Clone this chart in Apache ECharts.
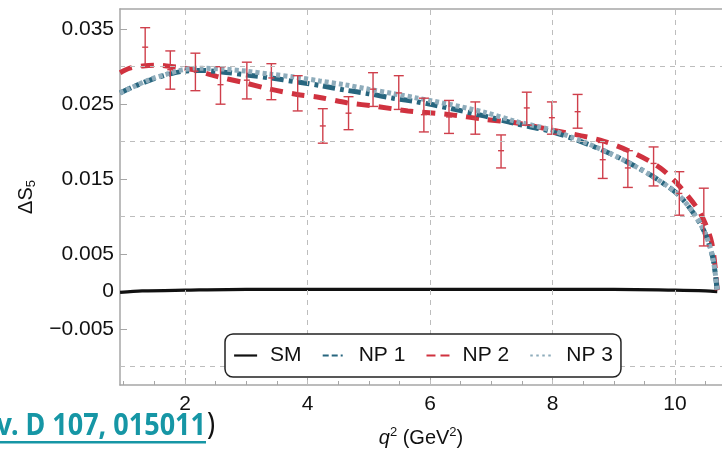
<!DOCTYPE html>
<html><head><meta charset="utf-8">
<script src="https://cdn.jsdelivr.net/npm/echarts@6/dist/echarts.min.js"></script>
<style>html,body{margin:0;padding:0;background:#fff}#c{width:722px;height:455px}</style>
</head><body><div id="c"></div>
<script>
// ---- data ----
const smQ = [0.94, 1.3, 2.0, 3.0, 5.0, 7.0, 9.0, 10.0, 10.5, 10.69];
const smV = [-0.0001, 0.0001, 0.0002, 0.0003, 0.0003, 0.0003, 0.0003, 0.0002, 0.0001, 0.0];

const np1Q = [0.94, 1.15, 1.43, 1.7, 1.97, 2.25, 2.6, 3.0, 3.4, 3.8, 4.2, 4.6, 5.0, 5.4, 5.8, 6.3, 6.9, 7.4, 7.96, 8.5, 9.05, 9.59, 10.03, 10.3, 10.49, 10.62, 10.69];
const np1V = [0.0265, 0.0273, 0.0282, 0.0289, 0.0294, 0.0295, 0.0293, 0.0289, 0.0285, 0.0280, 0.0275, 0.0269, 0.0264, 0.0258, 0.0253, 0.0245, 0.0234, 0.0224, 0.0214, 0.0199, 0.0180, 0.0156, 0.0131, 0.0105, 0.0078, 0.0044, 0.0];

const np3Q = [0.94, 1.15, 1.43, 1.7, 1.97, 2.25, 2.6, 3.0, 3.4, 3.8, 4.2, 4.6, 5.0, 5.4, 5.8, 6.3, 6.9, 7.4, 7.96, 8.5, 9.05, 9.59, 10.03, 10.3, 10.49, 10.62, 10.69];
const np3V = [0.0265, 0.0273, 0.0283, 0.0290, 0.0296, 0.0298, 0.0297, 0.0294, 0.0290, 0.0286, 0.0281, 0.0276, 0.0270, 0.0264, 0.0258, 0.0250, 0.0239, 0.0227, 0.0216, 0.0200, 0.0180, 0.0156, 0.0131, 0.0105, 0.0078, 0.0044, 0.0];

const np2Q = [0.94, 1.1, 1.31, 1.5, 1.7, 2.0, 2.13, 2.52, 2.95, 3.39, 3.83, 4.2, 4.64, 5.13, 5.64, 6.33, 6.87, 7.42, 7.96, 8.78, 9.32, 9.76, 10.08, 10.41, 10.6, 10.69];
const np2V = [0.0292, 0.0298, 0.0301, 0.0302, 0.0301, 0.0298, 0.0296, 0.0287, 0.0279, 0.0270, 0.0263, 0.0259, 0.0252, 0.0247, 0.0241, 0.0236, 0.0230, 0.0225, 0.0216, 0.0202, 0.0185, 0.0165, 0.0140, 0.0105, 0.0065, 0.0];

const ebQ    = [1.35, 1.76, 2.17, 2.58, 3.01, 3.41, 3.84, 4.25, 4.67, 5.07, 5.49, 5.90, 6.31, 6.74, 7.16, 7.58, 7.99, 8.41, 8.82, 9.23, 9.65, 10.07, 10.47];
const ebVal  = [0.0326, 0.0296, 0.0294, 0.0276, 0.0282, 0.0285, 0.0263, 0.0221, 0.0238, 0.0270, 0.0265, 0.0236, 0.0233, 0.0231, 0.0188, 0.0245, 0.0232, 0.0240, 0.0176, 0.0165, 0.0171, 0.0131, 0.0091];
const ebLow  = [0.0300, 0.0270, 0.0268, 0.0250, 0.0257, 0.0256, 0.0241, 0.0198, 0.0216, 0.0247, 0.0243, 0.0213, 0.0211, 0.0210, 0.0165, 0.0222, 0.0210, 0.0218, 0.0151, 0.0139, 0.0141, 0.0102, 0.0061];
const ebHigh = [0.0352, 0.0321, 0.0318, 0.0300, 0.0306, 0.0304, 0.0288, 0.0244, 0.0260, 0.0292, 0.0288, 0.0258, 0.0255, 0.0253, 0.0209, 0.0266, 0.0253, 0.0263, 0.0199, 0.0188, 0.0193, 0.0160, 0.0138];

const xMajorTicks = [2, 4, 6, 8, 10];
const xMinorTicks = [1, 1.5, 2.5, 3, 3.5, 4.5, 5, 5.5, 6.5, 7, 7.5, 8.5, 9, 9.5, 10.5];
const yTickLabels = [-0.005, 0, 0.005, 0.015, 0.025, 0.035];
const xGridLines = [2, 4, 6, 8, 10];
const yGridLines = [-0.01, 0.01, 0.02, 0.03];
const seriesNames = ['SM', 'NP 1', 'NP 2', 'NP 3'];

// ---- chart ----
const X_MIN = 0.939, X_MAX = 10.767, Y_MIN = -0.01244, Y_MAX = 0.03769;
const FONT = '"Liberation Sans", Arial, sans-serif';
const AX = '#a6a6a6';
const pairs = (q, v) => q.map((x, i) => [x, v[i]]);
const ebData = ebQ.map((x, i) => [x, ebVal[i], ebLow[i], ebHigh[i]]);

const chart = echarts.init(document.getElementById('c'), null, {renderer: 'canvas'});
const RED = '#d0323f', DARK = '#27667f', LIGHT = '#8eacbb', EB = '#cf3f4b';
const legendDash = {'SM': 'solid', 'NP 1': [6, 3, 6, 3, 2, 3], 'NP 2': [9, 5], 'NP 3': [2.5, 3.5]};

const option = {
  animation: false,
  backgroundColor: '#fff',
  grid: {left: 120, top: 9, right: 0, bottom: 70, containLabel: false},
  legend: {
    data: seriesNames.map(n => ({name: n, lineStyle: {type: legendDash[n], width: 2.2}})),
    left: 225, top: 334,
    orient: 'horizontal',
    itemWidth: 23, itemHeight: 14, itemGap: 20,
    padding: [11, 8, 11, 8],
    borderColor: '#222', borderWidth: 1.5, borderRadius: 8,
    backgroundColor: '#fff',
    itemStyle: {opacity: 0},
    lineStyle: {width: 2.2},
    textStyle: {fontSize: 21, color: '#111', fontFamily: FONT, padding: [0, 0, 0, 8]},
    z: 10
  },
  xAxis: [
    {
      type: 'value', position: 'bottom', min: X_MIN, max: X_MAX,
      axisLine: {show: true, onZero: false, lineStyle: {color: AX, width: 1.5}},
      axisTick: {show: true, inside: true, length: 7, customValues: xMajorTicks, lineStyle: {color: AX, width: 1}},
      axisLabel: {customValues: xMajorTicks, fontSize: 21, color: '#111', margin: 9, fontFamily: FONT},
      splitLine: {show: false},
      name: '{i|q}{s|2}{n| (GeV}{s|2}{n|)}',
      nameLocation: 'middle', nameGap: 41,
      nameTextStyle: {
        rich: {
          i: {fontSize: 20, fontStyle: 'italic', fontFamily: FONT, color: '#111', lineHeight: 24},
          n: {fontSize: 20, fontFamily: FONT, color: '#111', lineHeight: 24},
          s: {fontSize: 13, fontFamily: FONT, color: '#111', verticalAlign: 'top', lineHeight: 14}
        }
      }
    },
    {
      type: 'value', position: 'bottom', min: X_MIN, max: X_MAX,
      axisLine: {show: false, onZero: false},
      axisTick: {show: true, inside: true, length: 4, customValues: xMinorTicks, lineStyle: {color: AX, width: 1}},
      axisLabel: {show: false},
      splitLine: {show: false}
    },
    {
      type: 'value', position: 'top', min: X_MIN, max: X_MAX,
      axisLine: {show: true, onZero: false, lineStyle: {color: AX, width: 1.5}},
      axisTick: {show: false}, axisLabel: {show: false}, splitLine: {show: false}
    }
  ],
  yAxis: [
    {
      type: 'value', position: 'left', min: Y_MIN, max: Y_MAX,
      axisLine: {show: true, onZero: false, lineStyle: {color: AX, width: 1.5}},
      axisTick: {show: true, inside: true, length: 7, customValues: yTickLabels, lineStyle: {color: AX, width: 1}},
      axisLabel: {
        customValues: yTickLabels, fontSize: 21, color: '#111', margin: 6, fontFamily: FONT,
        formatter: v => (Math.abs(v) < 1e-12 ? '0' : (v < 0 ? '\u2212' : '') + Math.abs(v).toFixed(3))
      },
      splitLine: {show: false},
      name: '{a|\u0394S}{b|5}',
      nameLocation: 'middle', nameGap: 82, nameRotate: 90,
      nameTextStyle: {
        rich: {
          a: {fontSize: 20, fontFamily: FONT, color: '#111', lineHeight: 24},
          b: {fontSize: 13, fontFamily: FONT, color: '#111', verticalAlign: 'bottom', lineHeight: 12}
        }
      }
    }
  ],
  series: [
    {
      name: '_grid', type: 'line', data: [[X_MIN, Y_MIN]], symbol: 'none', silent: true,
      lineStyle: {opacity: 0}, z: 1,
      markLine: {
        silent: true, symbol: ['none', 'none'], animation: false,
        label: {show: false},
        lineStyle: {type: [5, 5], color: '#bdbdbd', width: 1},
        data: xGridLines.map(v => ({xAxis: v})).concat(yGridLines.map(v => ({yAxis: v})))
      }
    },
    {
      name: 'SM', type: 'line', data: pairs(smQ, smV), symbol: 'none', smooth: 0.3, z: 3,
      lineStyle: {color: '#111', width: 3.2}, itemStyle: {color: '#111'}
    },
    {
      name: 'NP 2', type: 'line', data: pairs(np2Q, np2V), symbol: 'none', smooth: 0.3, z: 3,
      lineStyle: {color: RED, width: 5, type: [13, 9]}, itemStyle: {color: RED}
    },
    {
      name: 'NP 1', type: 'line', data: pairs(np1Q, np1V), symbol: 'none', smooth: 0.3, z: 3,
      lineStyle: {color: DARK, width: 5, type: [12, 5, 4, 5]}, itemStyle: {color: DARK}
    },
    {
      name: 'NP 3', type: 'line', data: pairs(np3Q, np3V), symbol: 'none', smooth: 0.3, z: 3,
      lineStyle: {color: LIGHT, width: 5, type: [4, 3]}, itemStyle: {color: LIGHT}
    },
    {
      name: '_err', type: 'custom', data: ebData, z: 4, silent: true,
      encode: {x: 0, y: [1, 2, 3]},
      renderItem: (params, api) => {
        const x = api.value(0);
        const pc = api.coord([x, api.value(1)]);
        const pl = api.coord([x, api.value(2)]);
        const ph = api.coord([x, api.value(3)]);
        const st = {stroke: EB, lineWidth: 1.4};
        const cw = 5, mw = 3;
        return {type: 'group', children: [
          {type: 'line', shape: {x1: pl[0], y1: pl[1], x2: ph[0], y2: ph[1]}, style: st},
          {type: 'line', shape: {x1: ph[0] - cw, y1: ph[1], x2: ph[0] + cw, y2: ph[1]}, style: st},
          {type: 'line', shape: {x1: pl[0] - cw, y1: pl[1], x2: pl[0] + cw, y2: pl[1]}, style: st},
          {type: 'line', shape: {x1: pc[0] - mw, y1: pc[1], x2: pc[0] + mw, y2: pc[1]}, style: st}
        ]};
      }
    }
  ],
  graphic: [
    {type: 'text', x: 206, y: 411, scaleY: 1.15,
     style: {text: 'Phys. Rev. D 107, 015011', fill: '#1696a5', font: 'bold 27px "Noto Sans"', align: 'right', verticalAlign: 'top'}},
    {type: 'rect', shape: {x: 0, y: 441, width: 206, height: 2.5}, style: {fill: '#1696a5'}},
    {type: 'text', x: 207, y: 410, scaleY: 1.15,
     style: {text: ')', fill: '#111', font: '27px "Noto Sans"', align: 'left', verticalAlign: 'top'}}
  ]
};
chart.setOption(option);
</script>
</body></html>
